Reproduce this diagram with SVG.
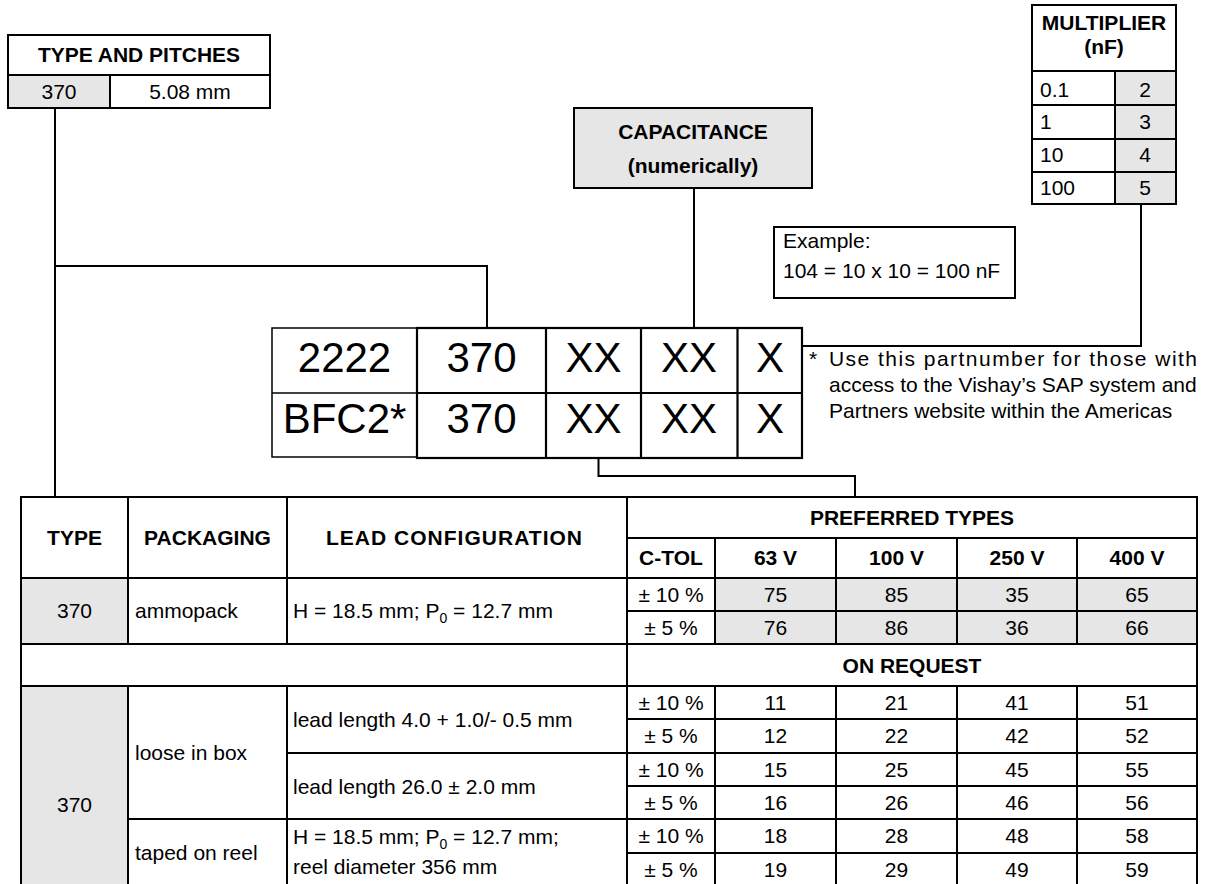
<svg xmlns="http://www.w3.org/2000/svg" width="1205" height="884" viewBox="0 0 1205 884">
<style>
text{font-family:"Liberation Sans",Arial,Helvetica,sans-serif;font-size:21px;fill:#000}
.b{font-weight:bold}
.c{text-anchor:middle}
.big{font-size:42px}
.box{fill:#fff;stroke:#000;stroke-width:2}
.gray{fill:#e6e6e6;stroke:none}
.ln{stroke:#000;stroke-width:2;fill:none}
.sub{font-size:14px}
</style>
<rect width="1205" height="884" fill="#fff"/>

<g id="connectors" class="ln">
<path d="M55,108 V497"/>
<path d="M55,266 H487 V328"/>
<path d="M694,188 V328"/>
<path d="M1141,204 V346 H802"/>
<path d="M598.5,459 V476 H855 V497"/>
</g>

<g id="type-pitches">
<rect class="box" x="8" y="35" width="262" height="73"/>
<rect class="gray" x="9" y="76" width="100" height="31"/>
<path class="ln" d="M8,75 H270 M110,75 V108"/>
<text class="b c" x="139" y="62">TYPE AND PITCHES</text>
<text class="c" x="59" y="99">370</text>
<text class="c" x="190" y="99">5.08 mm</text>
</g>

<g id="capacitance">
<rect x="574" y="108" width="238" height="80" fill="#e6e6e6" stroke="#000" stroke-width="2"/>
<text class="b c" x="693" y="139">CAPACITANCE</text>
<text class="b c" x="693" y="173">(numerically)</text>
</g>

<g id="multiplier">
<rect class="box" x="1032" y="5" width="144" height="199"/>
<rect class="gray" x="1116" y="72" width="59" height="131"/>
<path class="ln" d="M1032,71 H1176 M1032,105 H1176 M1032,139 H1176 M1032,172 H1176 M1115,71 V204"/>
<text class="b c" x="1104" y="30">MULTIPLIER</text>
<text class="b c" x="1104" y="54">(nF)</text>
<text x="1040" y="97">0.1</text>
<text x="1040" y="129">1</text>
<text x="1040" y="162">10</text>
<text x="1040" y="195">100</text>
<text class="c" x="1145" y="97">2</text>
<text class="c" x="1145" y="129">3</text>
<text class="c" x="1145" y="162">4</text>
<text class="c" x="1145" y="195">5</text>
</g>

<g id="example">
<rect class="box" x="774" y="227" width="241" height="71"/>
<text x="783" y="248">Example:</text>
<text x="783" y="278">104 = 10 x 10 = 100 nF</text>
</g>

<g id="partnumber">
<rect x="272" y="328" width="145" height="129" fill="#fff" stroke="#000" stroke-width="1.5"/>
<path d="M272,393 H417" stroke="#000" stroke-width="1.5"/>
<rect x="417" y="328" width="385" height="130" fill="none" stroke="#000" stroke-width="2.2"/>
<path d="M417,393 H802 M546,328 V458 M641,328 V458 M737.5,328 V458" stroke="#000" stroke-width="2.2"/>
<text class="big c" x="344.5" y="372">2222</text>
<text class="big c" x="481.5" y="372">370</text>
<text class="big c" x="593.5" y="372">XX</text>
<text class="big c" x="689" y="372">XX</text>
<text class="big c" x="770" y="372">X</text>
<text class="big c" x="344.5" y="433">BFC2*</text>
<text class="big c" x="481.5" y="433">370</text>
<text class="big c" x="593.5" y="433">XX</text>
<text class="big c" x="689" y="433">XX</text>
<text class="big c" x="770" y="433">X</text>
</g>

<g id="footnote">
<text x="809" y="366">*</text>
<text x="829" y="366" textLength="368" lengthAdjust="spacing">Use this partnumber for those with</text>
<text x="829" y="392">access to the Vishay’s SAP system and</text>
<text x="829" y="418">Partners website within the Americas</text>
</g>

<g id="table">
<rect x="21" y="497" width="1176" height="389" fill="#fff" stroke="#000" stroke-width="2"/>
<rect class="gray" x="22" y="579" width="105" height="64"/>
<rect class="gray" x="716" y="579" width="480" height="64"/>
<rect class="gray" x="22" y="687" width="105" height="198"/>
<path class="ln" d="M128,497 V644 M128,686 V886 M287,497 V644 M287,686 V886 M627,497 V886
M715,538 V644 M715,686 V886 M836,538 V644 M836,686 V886 M957,538 V644 M957,686 V886 M1077,538 V644 M1077,686 V886
M627,538 H1197 M21,578 H1197 M627,611 H1197 M21,644 H1197 M21,686 H1197
M627,719 H1197 M287,753 H1197 M627,786 H1197 M128,819 H1197 M627,853 H1197"/>
<text class="b c" x="74.5" y="545">TYPE</text>
<text class="b c" x="207.5" y="545">PACKAGING</text>
<text class="b c" x="454" y="545" textLength="256" lengthAdjust="spacing">LEAD CONFIGURATION</text>
<text class="b c" x="912" y="525">PREFERRED TYPES</text>
<text class="b c" x="671" y="565">C-TOL</text>
<text class="b c" x="775.5" y="565">63 V</text>
<text class="b c" x="896.5" y="565">100 V</text>
<text class="b c" x="1017" y="565">250 V</text>
<text class="b c" x="1137" y="565">400 V</text>

<text class="c" x="74.5" y="618">370</text>
<text x="135" y="618">ammopack</text>
<text x="293" y="618">H = 18.5 mm; P<tspan class="sub" dy="5">0</tspan><tspan dy="-5"> = 12.7 mm</tspan></text>
<text class="c" x="671" y="602">± 10 %</text>
<text class="c" x="775.5" y="602">75</text>
<text class="c" x="896.5" y="602">85</text>
<text class="c" x="1017" y="602">35</text>
<text class="c" x="1137" y="602">65</text>
<text class="c" x="671" y="635">± 5 %</text>
<text class="c" x="775.5" y="635">76</text>
<text class="c" x="896.5" y="635">86</text>
<text class="c" x="1017" y="635">36</text>
<text class="c" x="1137" y="635">66</text>

<text class="b c" x="912" y="673">ON REQUEST</text>

<text class="c" x="74.5" y="812">370</text>
<text x="135" y="760">loose in box</text>
<text x="135" y="860">taped on reel</text>
<text x="293" y="727">lead length 4.0 + 1.0/- 0.5 mm</text>
<text x="293" y="794">lead length 26.0 ± 2.0 mm</text>
<text x="293" y="844">H = 18.5 mm; P<tspan class="sub" dy="5">0</tspan><tspan dy="-5"> = 12.7 mm;</tspan></text>
<text x="293" y="874">reel diameter 356 mm</text>

<text class="c" x="671" y="710">± 10 %</text>
<text class="c" x="775.5" y="710">11</text>
<text class="c" x="896.5" y="710">21</text>
<text class="c" x="1017" y="710">41</text>
<text class="c" x="1137" y="710">51</text>
<text class="c" x="671" y="743">± 5 %</text>
<text class="c" x="775.5" y="743">12</text>
<text class="c" x="896.5" y="743">22</text>
<text class="c" x="1017" y="743">42</text>
<text class="c" x="1137" y="743">52</text>
<text class="c" x="671" y="777">± 10 %</text>
<text class="c" x="775.5" y="777">15</text>
<text class="c" x="896.5" y="777">25</text>
<text class="c" x="1017" y="777">45</text>
<text class="c" x="1137" y="777">55</text>
<text class="c" x="671" y="810">± 5 %</text>
<text class="c" x="775.5" y="810">16</text>
<text class="c" x="896.5" y="810">26</text>
<text class="c" x="1017" y="810">46</text>
<text class="c" x="1137" y="810">56</text>
<text class="c" x="671" y="843">± 10 %</text>
<text class="c" x="775.5" y="843">18</text>
<text class="c" x="896.5" y="843">28</text>
<text class="c" x="1017" y="843">48</text>
<text class="c" x="1137" y="843">58</text>
<text class="c" x="671" y="877">± 5 %</text>
<text class="c" x="775.5" y="877">19</text>
<text class="c" x="896.5" y="877">29</text>
<text class="c" x="1017" y="877">49</text>
<text class="c" x="1137" y="877">59</text>
</g>
</svg>
